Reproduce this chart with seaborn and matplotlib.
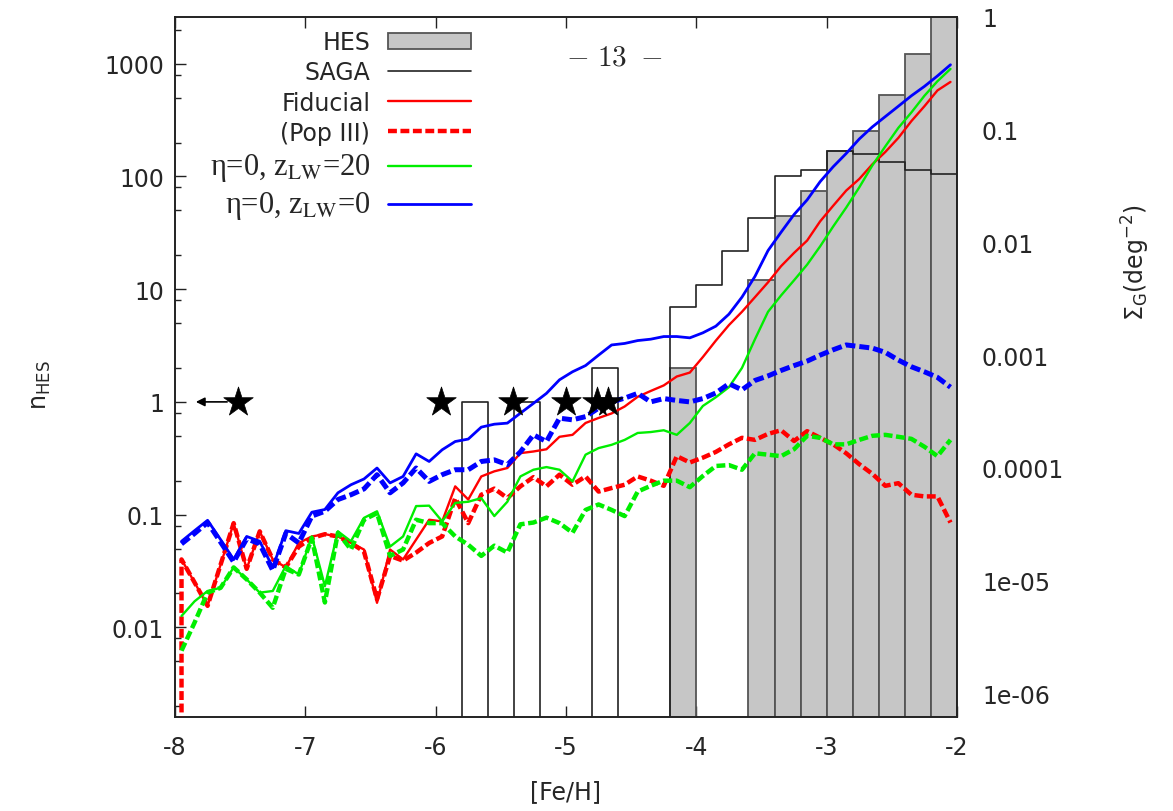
import numpy as np
import matplotlib
matplotlib.use("Agg")
import matplotlib.pyplot as plt
import seaborn as sns
from matplotlib.lines import Line2D
from matplotlib.patches import Patch
from matplotlib.ticker import FixedLocator, FuncFormatter, NullLocator

sns.set_style("ticks")
plt.rcParams["font.family"] = ["DejaVu Sans"]
plt.rcParams["mathtext.fontset"] = "dejavusans"
plt.rcParams["axes.unicode_minus"] = False

# ---------------------------------------------------------------------------
# Model metallicity distributions (0.1 dex bins, bin centres)
feh = np.round(np.arange(-7.95, -2.0, 0.1), 2)

fiducial = [0.040, 0.025, 0.0155, 0.036, 0.084, 0.033, 0.071, 0.040, 0.034, 0.056,
            0.064, 0.067, 0.064, 0.056, 0.049, 0.0165, 0.049, 0.040, 0.060, 0.090,
            0.087, 0.178, 0.136, 0.218, 0.242, 0.259, 0.351, 0.363, 0.38, 0.49,
            0.51, 0.65, 0.72, 0.79, 0.91, 1.11, 1.25, 1.40, 1.68, 1.82,
            2.5, 3.5, 4.8, 6.3, 8.5, 11.5, 16, 21, 27, 40,
            55, 75, 95, 128, 165, 220, 310, 420, 580, 690]

# Pop III contribution; the curve starts from zero below the first bin
feh_pop3 = np.concatenate([[-7.95], feh])
fiducial_pop3 = [0.0001,
                 0.040, 0.025, 0.0155, 0.036, 0.084, 0.033, 0.071, 0.040, 0.034, 0.052,
                 0.062, 0.067, 0.064, 0.056, 0.047, 0.0177, 0.043, 0.039, 0.046, 0.056,
                 0.064, 0.14, 0.084, 0.15, 0.17, 0.14, 0.178, 0.215, 0.178, 0.226,
                 0.184, 0.218, 0.16, 0.172, 0.184, 0.218, 0.20, 0.18, 0.33, 0.29,
                 0.32, 0.36, 0.42, 0.48, 0.46, 0.52, 0.56, 0.45, 0.55, 0.48,
                 0.42, 0.35, 0.28, 0.23, 0.18, 0.19, 0.15, 0.145, 0.145, 0.085]

eta0_zlw20 = [0.0126, 0.017, 0.021, 0.0224, 0.034, 0.0266, 0.0203, 0.021, 0.035, 0.0294,
              0.064, 0.0232, 0.071, 0.058, 0.0935, 0.107, 0.052, 0.064, 0.119, 0.120,
              0.087, 0.127, 0.130, 0.14, 0.097, 0.13, 0.218, 0.25, 0.264, 0.25,
              0.197, 0.34, 0.389, 0.416, 0.46, 0.53, 0.54, 0.56, 0.51, 0.65,
              0.92, 1.1, 1.35, 2.0, 3.6, 6.3, 8.8, 12, 16.5, 24,
              36, 53, 80, 125, 185, 270, 370, 520, 700, 900]

eta0_zlw20_pop3 = [0.0062, 0.011, 0.0203, 0.0224, 0.034, 0.0266, 0.0203, 0.0149, 0.033, 0.0294,
                   0.062, 0.0166, 0.069, 0.049, 0.090, 0.103, 0.043, 0.049, 0.090, 0.084,
                   0.084, 0.064, 0.054, 0.043, 0.053, 0.046, 0.082, 0.085, 0.094, 0.084,
                   0.069, 0.11, 0.123, 0.11, 0.097, 0.16, 0.18, 0.20, 0.20, 0.175,
                   0.22, 0.27, 0.275, 0.25, 0.35, 0.34, 0.33, 0.38, 0.50, 0.48,
                   0.42, 0.42, 0.46, 0.50, 0.51, 0.49, 0.47, 0.40, 0.33, 0.46]

eta0_zlw0 = [0.058, 0.072, 0.089, 0.060, 0.040, 0.064, 0.058, 0.034, 0.072, 0.068,
             0.105, 0.111, 0.156, 0.184, 0.207, 0.259, 0.191, 0.218, 0.346, 0.296,
             0.376, 0.445, 0.468, 0.597, 0.634, 0.648, 0.794, 0.97, 1.19, 1.57,
             1.85, 2.1, 2.6, 3.2, 3.3, 3.5, 3.6, 3.8, 3.8, 3.7,
             4.1, 4.7, 6.0, 8.5, 13, 22, 32, 46, 62, 90,
             122, 160, 215, 275, 340, 420, 520, 630, 780, 980]

eta0_zlw0_pop3 = [0.055, 0.068, 0.085, 0.057, 0.038, 0.061, 0.055, 0.032, 0.068, 0.056,
                  0.097, 0.107, 0.136, 0.150, 0.169, 0.226, 0.156, 0.191, 0.259, 0.197,
                  0.226, 0.25, 0.25, 0.296, 0.306, 0.277, 0.36, 0.51, 0.445, 0.717,
                  0.693, 0.74, 0.88, 1.0, 1.08, 1.19, 1.0, 1.07, 1.03, 1.0,
                  1.07, 1.2, 1.45, 1.28, 1.55, 1.7, 1.9, 2.1, 2.3, 2.6,
                  2.9, 3.2, 3.1, 3.0, 2.75, 2.35, 2.05, 1.85, 1.65, 1.35]

# Observed samples (0.2 dex bins, bin centres of non-empty bins)
hist_edges = [round(-8.0 + 0.2 * i, 1) for i in range(31)]
hes_feh = [-4.1, -3.5, -3.3, -3.1, -2.9, -2.7, -2.5, -2.3, -2.1]
hes_n = [2, 12, 45, 75, 170, 255, 530, 1220, 2800]
saga_feh = [-5.7, -5.3, -4.7, -4.1, -3.9, -3.7, -3.5, -3.3, -3.1, -2.9, -2.7, -2.5, -2.3, -2.1]
saga_n = [1, 1, 2, 7, 11, 22, 43, 100, 113, 170, 157, 134, 115, 106]

# Individual hyper metal-poor stars (first one is an upper limit)
star_feh = [-7.52, -5.96, -5.41, -5.0, -4.76, -4.68]
star_n = [1, 1, 1, 1, 1, 1]

# Conversion from HES counts to surface density (deg^-2)
hes_area = 2600.0
ylim = (0.0016, 2600.0)

# Axis ticks
left_major = [0.01, 0.1, 1, 10, 100, 1000]
left_minor = [m * d for d in [0.001, 0.01, 0.1, 1, 10, 100, 1000] for m in (2, 5, 8)
              if ylim[0] <= m * d <= ylim[1]]
right_major = [1e-6, 1e-5, 1e-4, 1e-3, 1e-2, 1e-1, 1]

# ---------------------------------------------------------------------------
fig = plt.figure(figsize=(11.73, 8.12), dpi=100)
ax = fig.add_axes([175 / 1173, 94 / 812, 782 / 1173, 700 / 812])
ax.set_yscale("log")

sns.histplot(x=hes_feh, weights=hes_n, bins=hist_edges, element="bars", fill=True,
             color="#c6c6c6", edgecolor="#555555", linewidth=1.3, alpha=1,
             ax=ax, zorder=1)
sns.histplot(x=saga_feh, weights=saga_n, bins=hist_edges, element="step", fill=False,
             color="#222222", linewidth=1.2, ax=ax, zorder=2)

dash = (0, (2.0, 0.8))
sns.lineplot(x=feh, y=fiducial, color="#ff0000", lw=1.7, ax=ax, zorder=3)
sns.lineplot(x=feh_pop3, y=fiducial_pop3, color="#ff0000", lw=3.2, linestyle=dash,
             estimator=None, sort=False, ax=ax, zorder=3)
sns.lineplot(x=feh, y=eta0_zlw20, color="#00ee00", lw=1.7, ax=ax, zorder=3)
sns.lineplot(x=feh, y=eta0_zlw20_pop3, color="#00ee00", lw=3.2, linestyle=dash, ax=ax, zorder=3)
sns.lineplot(x=feh, y=eta0_zlw0, color="#0000ff", lw=2.0, ax=ax, zorder=3)
sns.lineplot(x=feh, y=eta0_zlw0_pop3, color="#0000ff", lw=3.6, linestyle=dash, ax=ax, zorder=3)

sns.scatterplot(x=star_feh, y=star_n, marker="*", s=500, color="black",
                edgecolor="black", linewidth=0.5, ax=ax, zorder=5, legend=False)
ax.annotate("", xy=(star_feh[0] - 0.32, star_n[0]), xytext=(star_feh[0] - 0.08, star_n[0]),
            arrowprops=dict(arrowstyle="-|>", color="black", lw=1.2,
                            mutation_scale=13, shrinkA=0, shrinkB=0), zorder=5)

ax.set_xlim(-8, -2)
ax.set_ylim(*ylim)
ax.set_xticks(range(-8, -1))
ax.yaxis.set_major_locator(FixedLocator(left_major))
ax.yaxis.set_minor_locator(FixedLocator(left_minor))
ax.yaxis.set_major_formatter(FuncFormatter(lambda v, p: f"{v:g}"))
ax.tick_params(which="both", direction="in", top=True, right=False, labelsize=17,
               color="#222222")
ax.tick_params(which="major", length=8, width=1.0)
ax.tick_params(which="minor", length=4.5, width=1.0)
ax.tick_params(axis="x", which="minor", top=False, bottom=False)
ax.tick_params(axis="y", pad=8)
ax.tick_params(axis="x", pad=13)
ax.set_xlabel("[Fe/H]", fontsize=17)
ax.set_ylabel(r"n$_{\rm HES}$", fontsize=17)
ax.xaxis.set_label_coords(0.5, -0.088)
ax.yaxis.set_label_coords(-0.156, 0.476)
for sp in ax.spines.values():
    sp.set_color("#222222")
    sp.set_linewidth(1.2)

ax2 = ax.twinx()
ax2.set_yscale("log")
ax2.set_ylim(ylim[0] / hes_area, ylim[1] / hes_area)
ax2.yaxis.set_major_locator(FixedLocator(right_major))
ax2.yaxis.set_minor_locator(NullLocator())
ax2.yaxis.set_major_formatter(FuncFormatter(lambda v, p: f"{v:g}"))
ax2.tick_params(axis="y", length=0, pad=18, labelsize=17)
ax2.set_ylabel(r"$\Sigma_{\rm G}$(deg$^{-2}$)", fontsize=17, rotation=90)
ax2.yaxis.set_label_coords(1.208, 0.651)
for sp in ax2.spines.values():
    sp.set_color("#222222")
    sp.set_linewidth(1.2)

handles = [
    Patch(facecolor="#c6c6c6", edgecolor="#555555", linewidth=1.3),
    Line2D([], [], color="#222222", lw=1.2),
    Line2D([], [], color="#ff0000", lw=1.7),
    Line2D([], [], color="#ff0000", lw=3.2, linestyle=dash),
    Line2D([], [], color="#00ee00", lw=1.7),
    Line2D([], [], color="#0000ff", lw=2.0),
]
labels = ["HES", "SAGA", "Fiducial", "(Pop III)",
          "η=0, z$_{\\rm LW}$=20", "η=0, z$_{\\rm LW}$=0"]
leg = ax.legend(handles, labels, loc="upper right", bbox_to_anchor=(0.378, 0.981),
                frameon=False, markerfirst=False, fontsize=17, handlelength=3.5,
                handletextpad=0.75, labelspacing=0.26, borderpad=0, borderaxespad=0)
for t in leg.get_texts()[4:]:
    t.set_fontfamily("Liberation Serif")
    t.set_math_fontfamily("stix")
    t.set_fontsize(22)

fig.text(614 / 1173, 1 - 57 / 812, r"$-\ 13\ -$", ha="center", va="center",
         fontsize=21, math_fontfamily="cm")

fig.savefig("out.png", dpi=100)
